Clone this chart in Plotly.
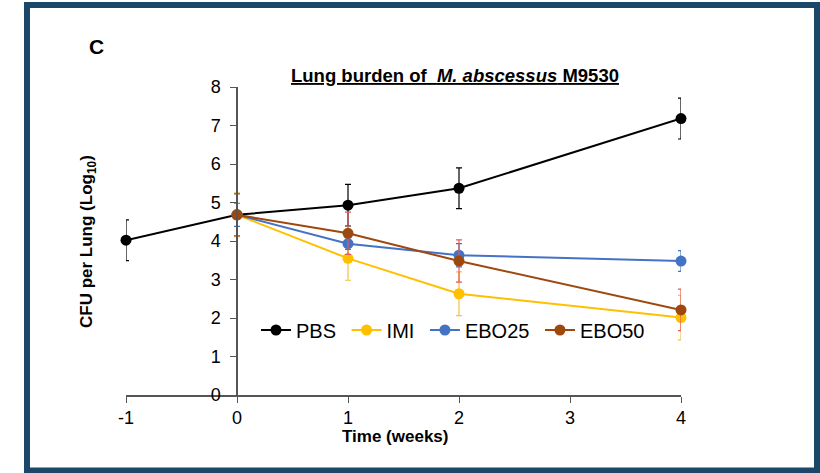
import plotly.graph_objects as go

weeks_pbs = [-1, 0, 1, 2, 4]
pbs = [4.02, 4.68, 4.93, 5.37, 7.18]
pbs_err = [0.53, 0.55, 0.54, 0.53, 0.53]

weeks = [0, 1, 2, 4]
imi = [4.68, 3.55, 2.63, 2.01]
imi_err = [0.57, 0.57, 0.57, 0.58]
ebo25 = [4.68, 3.93, 3.63, 3.48]
ebo25_err = [0.30, 0.15, 0.30, 0.27]
ebo50 = [4.68, 4.20, 3.48, 2.21]
ebo50_err = [0.55, 0.55, 0.55, 0.54]

x_ticks = [-1, 0, 1, 2, 3, 4]
y_ticks = [0, 1, 2, 3, 4, 5, 6, 7, 8]

FONT = "Liberation Sans, Arial, sans-serif"
NB = "\u00a0"

fig = go.Figure()

series = [
    ("PBS" + NB, weeks_pbs, pbs, pbs_err, "#000000", "#000000"),
    ("IMI" + NB, weeks, imi, imi_err, "#FFC000", "#F5C242"),
    ("EBO25" + NB, weeks, ebo25, ebo25_err, "#4472C4", "#4472C4"),
    ("EBO50", weeks, ebo50, ebo50_err, "#9E480E", "#E05A5A"),
]
for name, xs, ys, es, col, ecol in series:
    fig.add_trace(go.Scatter(
        x=xs, y=ys, name=name, mode="lines+markers",
        line=dict(color=col, width=2),
        marker=dict(color=col, size=11),
        error_y=dict(type="data", array=es, color=ecol, thickness=1.2, width=3),
        cliponaxis=False,
    ))

W, H = 820, 473
L, R, T, B = 126, 681, 87, 395   # plot area in window pixels
def px(x):
    return (x - L) / (R - L)
def py(y):
    return (B - y) / (B - T)

fig.update_layout(
    width=W, height=H,
    margin=dict(l=L, r=W - R, t=T, b=H - B, pad=0),
    paper_bgcolor="white", plot_bgcolor="white",
    font=dict(family=FONT, color="#000000", size=18),
    showlegend=True,
    legend=dict(
        orientation="h", x=px(256), y=py(330), xanchor="left", yanchor="middle",
        font=dict(size=20, family=FONT), bgcolor="rgba(0,0,0,0)",
        itemwidth=30, tracegroupgap=0,
    ),
    xaxis=dict(
        range=[-1, 4], tickvals=x_ticks, ticktext=[str(v) for v in x_ticks],
        showgrid=False, zeroline=False, showline=True, linecolor="#555555",
        linewidth=1.5, ticks="outside", ticklen=6, tickcolor="#555555",
        tickfont=dict(size=18), fixedrange=True,
    ),
    yaxis=dict(
        range=[0, 8], tickvals=y_ticks, ticktext=[str(v) for v in y_ticks],
        showgrid=False, zeroline=False, showline=True, linecolor="#555555",
        linewidth=1.5, ticks="outside", ticklen=6, tickcolor="#555555",
        ticklabelstandoff=6,
        anchor="free", position=0.2, tickfont=dict(size=18), fixedrange=True,
    ),
    shapes=[dict(
        type="rect", xref="paper", yref="paper",
        x0=px(27), x1=px(817), y0=py(470.5), y1=py(5),
        line=dict(color="#1B4868", width=6), fillcolor="rgba(0,0,0,0)", layer="below",
    )],
    annotations=[
        dict(text="<b>C</b>", xref="paper", yref="paper", x=px(96), y=py(47),
             showarrow=False, font=dict(size=21, family=FONT), xanchor="center", yanchor="middle"),
        dict(text="<b><u>Lung burden of  <i>M. abscessus</i> M9530</u></b>", xref="paper", yref="paper",
             x=px(455), y=py(76), showarrow=False, font=dict(size=18.5, family=FONT),
             xanchor="center", yanchor="middle"),
        dict(text="<b>CFU per Lung (Log<sub>10</sub>)</b>", xref="paper", yref="paper",
             x=px(88), y=py(242), showarrow=False, textangle=-90, font=dict(size=17, family=FONT),
             xanchor="center", yanchor="middle"),
        dict(text="<b>Time (weeks)</b>", xref="paper", yref="paper",
             x=px(395), y=py(437), showarrow=False, font=dict(size=17, family=FONT),
             xanchor="center", yanchor="middle"),
    ],
)

fig.write_html(
    "out.html",
    config={"displayModeBar": False},
    post_script="document.body.style.margin='0';document.body.style.overflow='hidden';",
)
